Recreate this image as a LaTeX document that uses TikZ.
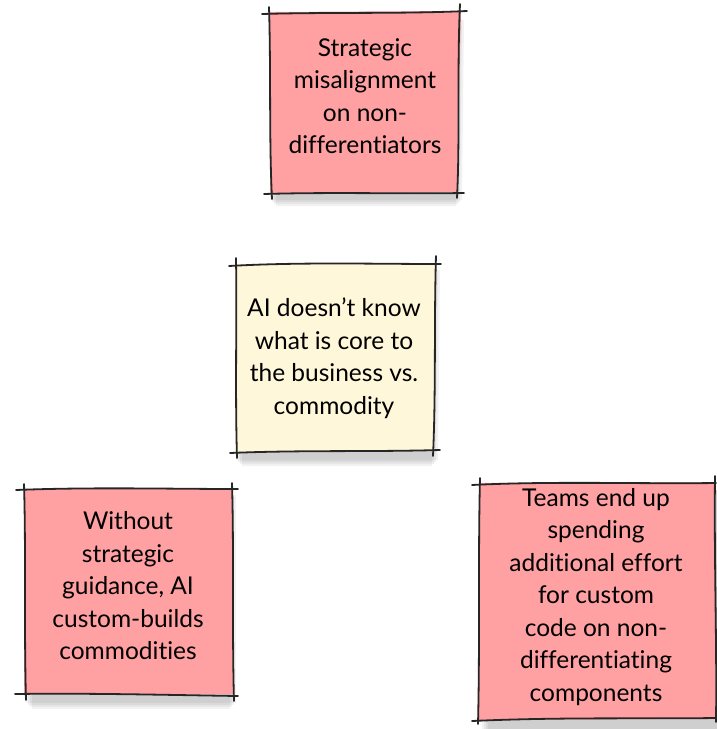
\documentclass[tikz,border=0pt]{standalone}
\usepackage{fontspec}
\setmainfont{Lato}[Ligatures=NoCommon]
\definecolor{notepink}{RGB}{255,160,162}
\definecolor{notecream}{RGB}{255,247,218}
\begin{document}
\begin{tikzpicture}[x=1pt,y=-1pt,
  edge/.style={line width=1.8pt, black!85, line cap=round},
  notetext/.style={align=center, font=\fontsize{24.5}{32.5}\selectfont, inner sep=0pt},
  shade1/.style={fill=black, opacity=0.05}]
\useasboundingbox (0,0) rectangle (717,729);
% shadows
\foreach \d in {0,2,4,6}{
  \fill[shade1] (272+\d,20) -- (464-\d,20) -- (462-\d,200+\d) -- (270+\d,200+\d) -- cycle;
  \fill[shade1] (238+\d,270) -- (440-\d,270) -- (438-\d,460+\d) -- (236+\d,460+\d) -- cycle;
  \fill[shade1] (26+\d,495) -- (236-\d,495) -- (236-\d,703+\d) -- (26+\d,703+\d) -- cycle;
  \fill[shade1] (482+\d,490) -- (717,490) -- (717,729) -- (482+\d,729) -- cycle;
}
% box 1 (top)
\fill[notepink] (270,12) -- (461,11) -- (457,192) -- (270,194) -- cycle;
\draw[edge] (262,14) .. controls (330,12) and (400,14) .. (467,11);
\draw[edge] (460,4) .. controls (457,70) and (460,140) .. (457,198);
\draw[edge] (264,194) .. controls (330,192) and (400,194) .. (464,193);
\draw[edge] (269,7) .. controls (271,70) and (269,140) .. (272,199);
\node[notetext] (n1) at (365,96) {Strategic\\misalignment\\on non-\\differentiators};
% box 2 (middle)
\fill[notecream] (236,264) -- (436,263) -- (434,450) -- (236,452) -- cycle;
\draw[edge] (229,266) .. controls (300,262) and (370,264) .. (441,264);
\draw[edge] (436,256) .. controls (434,320) and (436,390) .. (433,456);
\draw[edge] (230,453) .. controls (300,450) and (370,452) .. (440,450);
\draw[edge] (236,258) .. controls (237,320) and (235,390) .. (237,458);
\node[notetext] (n2) at (334,358) {AI doesn’t know\\what is core to\\the business vs.\\commodity};
% box 3 (bottom left)
\fill[notepink] (24,489) -- (232,489) -- (233,694) -- (24,694) -- cycle;
\draw[edge] (16,490) .. controls (90,487) and (170,489) .. (238,489);
\draw[edge] (232,483) .. controls (234,550) and (232,630) .. (234,701);
\draw[edge] (15,694) .. controls (90,693) and (170,695) .. (238,696);
\draw[edge] (24,484) .. controls (26,550) and (24,630) .. (26,700);
\node[notetext] (n3) at (128,586) {Without\\strategic\\guidance, AI\\custom-builds\\commodities};
% box 4 (bottom right)
\fill[notepink] (480,483) -- (714,482) -- (716,719) -- (479,720) -- cycle;
\draw[edge] (472,485) .. controls (550,481) and (640,484) .. (716,483);
\draw[edge] (715,476) .. controls (714,560) and (717,640) .. (716,722);
\draw[edge] (472,721) .. controls (560,717) and (640,719) .. (716,718);
\draw[edge] (480,478) .. controls (478,560) and (480,640) .. (478,724);
\node[notetext] (n4) at (596,597) {Teams end up\\spending\\additional effort\\for custom\\code on non-\\differentiating\\components};
\end{tikzpicture}
\end{document}
